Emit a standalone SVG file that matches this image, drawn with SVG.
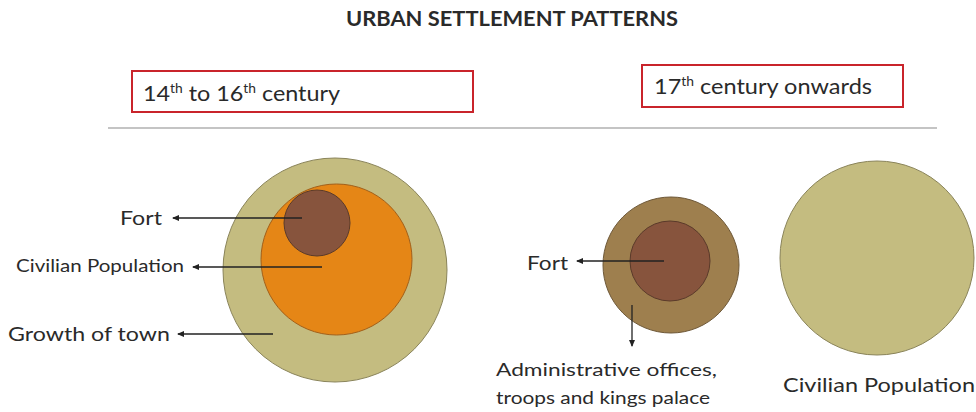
<svg xmlns="http://www.w3.org/2000/svg" width="976" height="412" viewBox="0 0 976 412">
<style>
text{font-family:Lato,"Open Sans","Liberation Sans",sans-serif;fill:#2a2a2a}
.box{fill:#fff;stroke:#c9242b;stroke-width:2}
.olive{fill:#c4bc80;stroke:#8a845a;stroke-width:1}
.orange{fill:#e58616;stroke:#a2601a;stroke-width:1}
.brown{fill:#87543d;stroke:#5a3a2a;stroke-width:1}
.khaki{fill:#9e7f4e;stroke:#6e5838;stroke-width:1}
.conn{stroke:#222;stroke-width:1.3;fill:none;marker-end:url(#ah)}
</style>
<defs>
<marker id="ah" markerWidth="8" markerHeight="8" refX="6" refY="4" orient="auto" markerUnits="userSpaceOnUse">
<path d="M0,1 L7,4 L0,7 z" fill="#222"/>
</marker>
</defs>
<rect width="976" height="412" fill="#fff"/>
<text x="346" y="26" font-weight="bold" font-size="20" textLength="332" lengthAdjust="spacingAndGlyphs">URBAN SETTLEMENT PATTERNS</text>
<g id="period1">
<rect class="box" x="132" y="71" width="341" height="41"/>
<text x="143" y="101" font-size="22" textLength="197" lengthAdjust="spacingAndGlyphs">14<tspan font-size="13" dy="-8">th</tspan><tspan dy="8"> to 16</tspan><tspan font-size="13" dy="-8">th</tspan><tspan dy="8"> century</tspan></text>
</g>
<g id="period2">
<rect class="box" x="642" y="65" width="261" height="42"/>
<text x="654" y="94" font-size="22" textLength="218" lengthAdjust="spacingAndGlyphs">17<tspan font-size="13" dy="-8">th</tspan><tspan dy="8"> century onwards</tspan></text>
</g>
<line x1="108" y1="128" x2="937" y2="128" stroke="#c4c4c4" stroke-width="2"/>
<g id="growth-of-town"><circle class="olive" cx="335" cy="270" r="112"/></g>
<g id="civilian-population-1"><circle class="orange" cx="336.5" cy="259.5" r="75.5"/></g>
<g id="fort-1"><circle class="brown" cx="317" cy="223" r="33"/></g>
<g id="admin"><circle class="khaki" cx="671" cy="265" r="68"/></g>
<g id="fort-2"><circle class="brown" cx="670" cy="261" r="40"/></g>
<g id="civilian-population-2"><circle class="olive" cx="877" cy="258" r="97"/></g>
<g id="connectors">
<line class="conn" x1="302" y1="218" x2="173" y2="218"/>
<line class="conn" x1="322" y1="267" x2="193" y2="267"/>
<line class="conn" x1="273" y1="334" x2="178" y2="334"/>
<line class="conn" x1="664" y1="261" x2="577" y2="261"/>
<line class="conn" x1="632" y1="305" x2="632" y2="346"/>
</g>
<g id="labels">
<text x="120" y="225" font-size="20" textLength="42" lengthAdjust="spacingAndGlyphs">Fort</text>
<text x="16" y="272" font-size="17" textLength="168" lengthAdjust="spacingAndGlyphs">Civilian Population</text>
<text x="8" y="341" font-size="20" textLength="162" lengthAdjust="spacingAndGlyphs">Growth of town</text>
<text x="527" y="270" font-size="20" textLength="41" lengthAdjust="spacingAndGlyphs">Fort</text>
<text x="496" y="376" font-size="18" textLength="221" lengthAdjust="spacingAndGlyphs">Administrative offices,</text>
<text x="496" y="404" font-size="18" textLength="214" lengthAdjust="spacingAndGlyphs">troops and kings palace</text>
<text x="783" y="392" font-size="20" textLength="192" lengthAdjust="spacingAndGlyphs">Civilian Population</text>
</g>
</svg>
